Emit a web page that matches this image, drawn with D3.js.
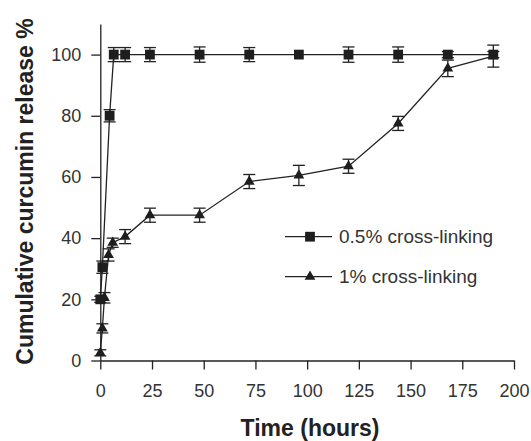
<!DOCTYPE html>
<html>
<head>
<meta charset="utf-8">
<script src="https://cdn.jsdelivr.net/npm/d3@7"></script>
<style>
  body { margin: 0; background: #fff; }
  svg { display: block; font-family: "Liberation Sans", Arial, sans-serif; }
  .axis path, .axis line { stroke: #222; stroke-width: 1.3; }
  .axis text { fill: #333; font-size: 18px; }
</style>
</head>
<body>
<svg></svg>
<script>
// data
let timeSq = [0, 1, 4.5, 6.5, 12, 24, 48, 72, 96, 120, 144, 168, 190]
let releaseSq = [20, 30.5, 80, 100, 100, 100, 100, 100, 100, 100, 100, 100, 100]
let errSq = [1, 2, 2, 2.3, 2.3, 2.3, 2.5, 2.3, 0, 2.5, 2.5, 1, 1]

let timeTri = [0, 1, 2, 4, 6, 12, 24, 48, 72, 96, 120, 144, 168, 190]
let releaseTri = [2.5, 10.5, 20.5, 34.5, 38.5, 40.5, 47.5, 47.5, 58.5, 60.5, 63.5, 77.5, 95.5, 99.5]
let errTri = [1, 1.5, 1.7, 2, 1.5, 2.3, 2.3, 2.3, 2.3, 3.3, 2.3, 2.3, 2.7, 3.6]

let xTicks = [0, 25, 50, 75, 100, 125, 150, 175, 200]
let yTicks = [0, 20, 40, 60, 80, 100]
let seriesNames = ['0.5% cross-linking', '1% cross-linking']

let width = 531
let height = 441

let svg = d3.select('svg')
    .attr('width', width)
    .attr('height', height)

let xScale = d3.scaleLinear()
    .domain([0, 200])
    .range([100.3, 514])

let yScale = d3.scaleLinear()
    .domain([0, 110])
    .range([360.5, 24])

// axes
let xAxis = d3.axisBottom(xScale)
    .tickValues(xTicks)
    .tickSize(9)
    .tickSizeOuter(0)
    .tickPadding(15)
svg.append('g')
    .attr('class', 'axis')
    .attr('transform', 'translate(0,' + yScale(0) + ')')
    .call(xAxis)

let yAxis = d3.axisLeft(yScale)
    .tickValues(yTicks)
    .tickSize(9)
    .tickSizeOuter(0)
    .tickPadding(10)
svg.append('g')
    .attr('class', 'axis')
    .attr('transform', 'translate(' + xScale(0) + ',0)')
    .call(yAxis)

// axis titles
svg.append('text')
    .attr('x', 310)
    .attr('y', 436)
    .attr('text-anchor', 'middle')
    .style('font-size', '23px')
    .style('font-weight', 'bold')
    .style('fill', '#222')
    .text('Time (hours)')

svg.append('text')
    .attr('transform', 'translate(33,191.5) rotate(-90)')
    .attr('text-anchor', 'middle')
    .style('font-size', '23px')
    .style('font-weight', 'bold')
    .style('fill', '#222')
    .text('Cumulative curcumin release %')

let square = d3.symbol().type(d3.symbolSquare).size(96)
let triangle = d3.symbol().type(d3.symbolTriangle).size(50)

let drawSeries = (times, values, errs, shape) => {
    let pts = times.map((t, i) => ({ t: t, v: values[i], e: errs[i] }))

    let line = d3.line()
        .x(d => xScale(d.t))
        .y(d => yScale(d.v))

    svg.append('path')
        .datum(pts)
        .attr('d', line)
        .attr('fill', 'none')
        .attr('stroke', '#222')
        .attr('stroke-width', 1.3)

    // error bars
    let bars = svg.append('g')
        .attr('stroke', '#222')
        .attr('stroke-width', 1.3)
        .selectAll('g')
        .data(pts.filter(d => d.e > 0))
        .enter()
        .append('g')

    bars.append('line')
        .attr('x1', d => xScale(d.t))
        .attr('x2', d => xScale(d.t))
        .attr('y1', d => yScale(d.v + d.e))
        .attr('y2', d => yScale(d.v - d.e))
    bars.append('line')
        .attr('x1', d => xScale(d.t) - 6)
        .attr('x2', d => xScale(d.t) + 6)
        .attr('y1', d => yScale(d.v + d.e))
        .attr('y2', d => yScale(d.v + d.e))
    bars.append('line')
        .attr('x1', d => xScale(d.t) - 6)
        .attr('x2', d => xScale(d.t) + 6)
        .attr('y1', d => yScale(d.v - d.e))
        .attr('y2', d => yScale(d.v - d.e))

    svg.append('g')
        .selectAll('path')
        .data(pts)
        .enter()
        .append('path')
        .attr('d', shape)
        .attr('transform', d => 'translate(' + xScale(d.t) + ',' + yScale(d.v) + ')')
        .attr('fill', '#1e1e1e')
}

drawSeries(timeTri, releaseTri, errTri, triangle)
drawSeries(timeSq, releaseSq, errSq, square)

// legend
let legend = svg.append('g')
let shapes = [square, triangle]
seriesNames.forEach((name, i) => {
    let y = 236.7 + i * 40
    legend.append('line')
        .attr('x1', 285)
        .attr('x2', 332)
        .attr('y1', y)
        .attr('y2', y)
        .attr('stroke', '#222')
        .attr('stroke-width', 1.3)
    legend.append('path')
        .attr('d', shapes[i])
        .attr('transform', 'translate(310,' + y + ')')
        .attr('fill', '#1e1e1e')
    legend.append('text')
        .attr('x', 339)
        .attr('y', y)
        .attr('dy', '0.35em')
        .style('font-size', '19px')
        .style('fill', '#333')
        .text(name)
})
</script>
</body>
</html>
